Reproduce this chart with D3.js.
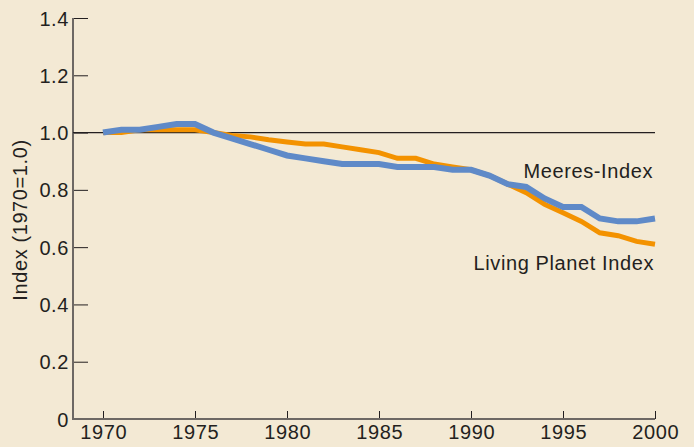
<!DOCTYPE html>
<html>
<head>
<meta charset="utf-8">
<script src="https://cdn.jsdelivr.net/npm/d3@7"></script>
<style>
  body { margin: 0; background: #f3e9d4; }
  text { font-family: "Liberation Sans", Arial, sans-serif; fill: #231f20; letter-spacing: 0.6px; }
</style>
</head>
<body>
<svg width="694" height="447"></svg>
<script>
// data
var years = d3.range(1970, 2001);
var meeres = [1.00, 1.01, 1.01, 1.02, 1.03, 1.03, 1.00, 0.98, 0.96, 0.94, 0.92,
              0.91, 0.90, 0.89, 0.89, 0.89, 0.88, 0.88, 0.88, 0.87, 0.87,
              0.85, 0.82, 0.81, 0.77, 0.74, 0.74, 0.70, 0.69, 0.69, 0.70];
var lpi = [1.00, 1.00, 1.01, 1.01, 1.01, 1.01, 1.00, 0.99, 0.985, 0.975, 0.967,
           0.96, 0.96, 0.95, 0.94, 0.93, 0.91, 0.91, 0.89, 0.88, 0.87,
           0.85, 0.82, 0.79, 0.75, 0.72, 0.69, 0.65, 0.64, 0.62, 0.61];
var yTicks = [0, 0.2, 0.4, 0.6, 0.8, 1.0, 1.2, 1.4];
var xTicks = [1970, 1975, 1980, 1985, 1990, 1995, 2000];

var svg = d3.select("svg");
var axisColor = "#6d6864";

var x = d3.scaleLinear().domain([1970, 2000]).range([103, 655]);
var y = d3.scaleLinear().domain([0, 1.4]).range([419, 18]);

// y axis, ticks point inward
var yAxis = svg.append("g").attr("transform", "translate(73,0)")
  .call(d3.axisRight(y).tickValues(yTicks).tickSize(15).tickFormat(function(d) { return d === 0 ? "0" : d3.format(".1f")(d); }));
yAxis.select(".domain").remove();
yAxis.selectAll("line").attr("stroke", "#231f20").attr("stroke-width", 1);
yAxis.selectAll("text").attr("x", -4).attr("text-anchor", "end").attr("dy", "0.35em")
  .style("font-size", "20px");

// x axis, ticks point upward
var xAxis = svg.append("g").attr("transform", "translate(0,419)")
  .call(d3.axisBottom(x).tickValues(xTicks).tickSize(0).tickFormat(d3.format("d")));
xAxis.select(".domain").remove();
xAxis.selectAll("line").attr("y2", -8).attr("stroke", "#231f20").attr("stroke-width", 1);
xAxis.selectAll("text").attr("y", 20).attr("dy", 0).attr("dx", "0.3px").style("font-size", "20px");

// axis lines
svg.append("line").attr("x1", 73).attr("x2", 73).attr("y1", y(1.4)).attr("y2", 420)
  .attr("stroke", axisColor).attr("stroke-width", 2);
svg.append("line").attr("x1", 72).attr("x2", x(2000)).attr("y1", 419).attr("y2", 419)
  .attr("stroke", axisColor).attr("stroke-width", 2);

// reference line at 1.0
svg.append("line").attr("x1", 73).attr("x2", x(2000)).attr("y1", y(1)).attr("y2", y(1))
  .attr("stroke", "#231f20").attr("stroke-width", 1.2);

var line = d3.line().x(function(d, i) { return x(years[i]); }).y(function(d) { return y(d); });

svg.append("path").datum(lpi).attr("d", line)
  .attr("fill", "none").attr("stroke", "#f39200").attr("stroke-width", 5);
svg.append("path").datum(meeres).attr("d", line)
  .attr("fill", "none").attr("stroke", "#5f8ac8").attr("stroke-width", 6);

// labels
svg.append("text").attr("x", 653).attr("y", 178).attr("text-anchor", "end")
  .style("font-size", "20px").text("Meeres-Index");
svg.append("text").attr("x", 654).attr("y", 270).attr("text-anchor", "end")
  .style("font-size", "20px").text("Living Planet Index");

svg.append("text").attr("transform", "translate(27,220) rotate(-90)")
  .attr("text-anchor", "middle").style("font-size", "20px").text("Index (1970=1.0)");
</script>
</body>
</html>
